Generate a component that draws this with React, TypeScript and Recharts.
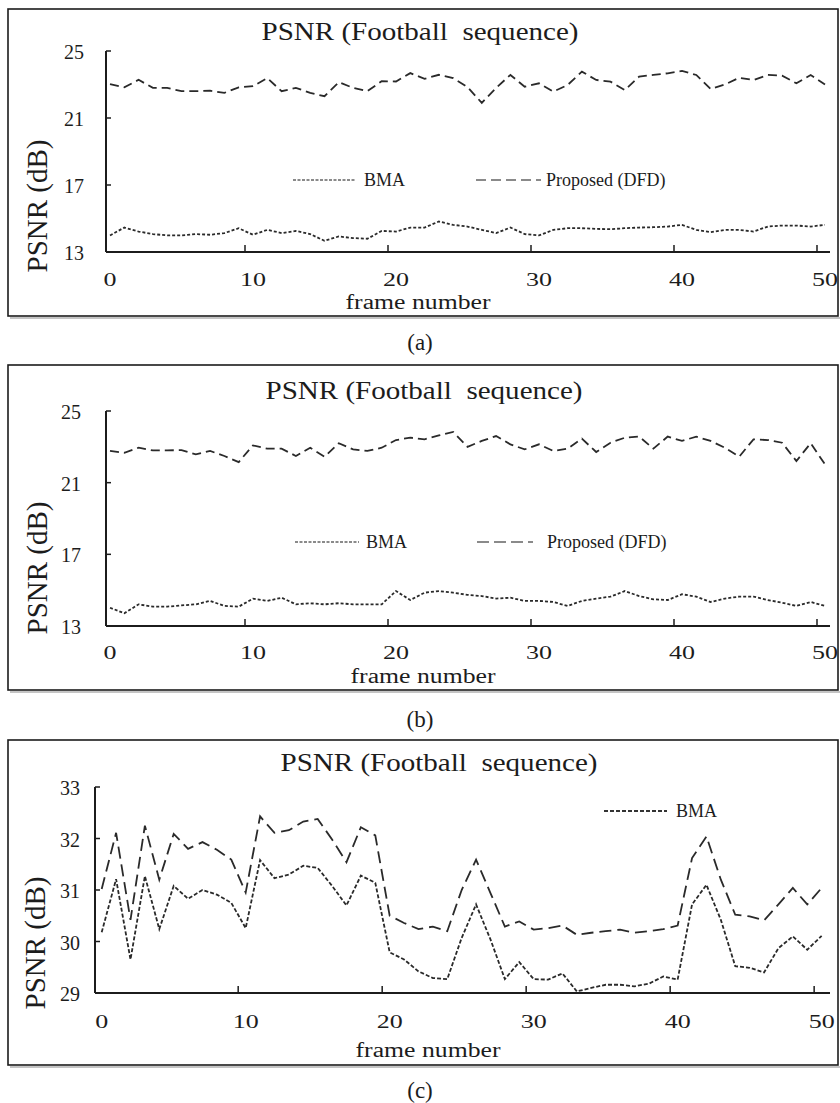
import React from 'react'
import { LineChart, Line, XAxis, YAxis, Legend } from 'recharts'

// frame index shared by all three panels
const frames = [
  0, 1, 2, 3, 4, 5, 6, 7, 8, 9, 10, 11, 12, 13, 14, 15, 16, 17, 18, 19, 20, 21, 22, 23, 24, 25,
  26, 27, 28, 29, 30, 31, 32, 33, 34, 35, 36, 37, 38, 39, 40, 41, 42, 43, 44, 45, 46, 47, 48, 49, 50,
]
const frameTicks = [0, 10, 20, 30, 40, 50]

// (a)
const bmaA = [
  13.99, 14.46, 14.22, 14.07, 13.99, 13.99, 14.07, 14.03, 14.13, 14.42, 14.03, 14.32, 14.13, 14.26, 14.07, 13.67, 13.93,
  13.83, 13.79, 14.26, 14.22, 14.46, 14.46, 14.82, 14.62, 14.52, 14.32, 14.13, 14.46, 14.07, 13.99, 14.32, 14.42, 14.42,
  14.38, 14.36, 14.42, 14.46, 14.48, 14.52, 14.62, 14.32, 14.18, 14.32, 14.32, 14.22, 14.52, 14.58, 14.58, 14.52, 14.62,
]
const dfdA = [
  23.02, 22.83, 23.28, 22.8, 22.8, 22.6, 22.6, 22.63, 22.5, 22.83, 22.9, 23.38, 22.6, 22.8, 22.5, 22.3, 23.14,
  22.8, 22.6, 23.2, 23.18, 23.68, 23.34, 23.58, 23.38, 22.85, 21.9, 22.8, 23.57, 22.87, 23.07, 22.57, 22.97, 23.77,
  23.27, 23.17, 22.67, 23.47, 23.57, 23.67, 23.81, 23.57, 22.73, 23.0, 23.4, 23.27, 23.57, 23.53, 23.07, 23.57, 23.0,
]

// (b)
const bmaB = [
  14.02, 13.71, 14.21, 14.08, 14.08, 14.15, 14.21, 14.4, 14.12, 14.08, 14.53, 14.4, 14.58, 14.21, 14.27, 14.21, 14.27,
  14.21, 14.21, 14.21, 14.95, 14.45, 14.86, 14.95, 14.86, 14.74, 14.67, 14.53, 14.58, 14.4, 14.4, 14.34, 14.12, 14.4,
  14.53, 14.64, 14.95, 14.67, 14.49, 14.45, 14.77, 14.64, 14.34, 14.53, 14.64, 14.64, 14.45, 14.3, 14.12, 14.34, 14.12,
]
const dfdB = [
  22.77, 22.67, 22.95, 22.8, 22.8, 22.82, 22.58, 22.77, 22.49, 22.15, 23.08, 22.9, 22.9, 22.49, 22.95, 22.45, 23.2,
  22.86, 22.77, 22.95, 23.38, 23.51, 23.42, 23.64, 23.83, 23.0, 23.33, 23.6, 23.14, 22.86, 23.14, 22.77, 22.9, 23.46,
  22.71, 23.23, 23.51, 23.57, 22.9, 23.57, 23.33, 23.57, 23.33, 22.95, 22.45, 23.42, 23.38, 23.23, 22.21, 23.2, 22.02,
]

// (c)
const bmaC = [
  30.18, 31.21, 29.65, 31.27, 30.24, 31.08, 30.83, 31.0, 30.91, 30.75, 30.26, 31.58, 31.23, 31.3, 31.47, 31.43, 31.08,
  30.7, 31.28, 31.14, 29.79, 29.65, 29.42, 29.29, 29.27, 30.07, 30.72, 30.04, 29.27, 29.6, 29.27, 29.26, 29.38, 29.03,
  29.1, 29.16, 29.16, 29.13, 29.18, 29.32, 29.26, 30.72, 31.1, 30.42, 29.52, 29.49, 29.4, 29.87, 30.1, 29.84, 30.11,
]
const dfdC = [
  31.02, 32.11, 30.42, 32.25, 31.2, 32.09, 31.8, 31.93, 31.78, 31.59, 30.95, 32.43, 32.11, 32.16, 32.33, 32.38, 31.98,
  31.54, 32.22, 32.06, 30.5, 30.36, 30.24, 30.29, 30.2, 31.0, 31.59, 30.94, 30.29, 30.39, 30.23, 30.26, 30.31, 30.13,
  30.17, 30.2, 30.23, 30.17, 30.2, 30.24, 30.31, 31.62, 32.04, 31.2, 30.52, 30.49, 30.41, 30.72, 31.04, 30.72, 31.04,
]

const serif = "'Liberation Serif', Tinos, 'Times New Roman', Times, serif"
const ink = '#1c1c1c'
const lineInk = '#2a2a2a'
const txt = { fontFamily: serif }

function FrameTick(props: any) {
  const { x, y, payload, tickShift, labelDy } = props
  const v = payload.value
  return (
    <g>
      {v > 0 && <line x1={x - tickShift} x2={x - tickShift} y1={y} y2={y - 7} stroke={ink} strokeWidth={1.5} />}
      <text
        x={x}
        y={y + labelDy}
        textAnchor="middle"
        style={txt}
        fontSize={19}
        fill={ink}
        textLength={String(v).length * 13}
        lengthAdjust="spacingAndGlyphs"
      >
        {v}
      </text>
    </g>
  )
}

function DbTick(props: any) {
  const { x, y, payload, labelGap } = props
  return (
    <g>
      <line x1={x} x2={x + 5} y1={y} y2={y} stroke={ink} strokeWidth={1.5} />
      <text x={x - labelGap} y={y + 8} textAnchor="end" style={txt} fontSize={20} fill={ink}>
        {payload.value}
      </text>
    </g>
  )
}

function FrameTitle({ cx, baseY }: any) {
  return (
    <text x={cx} y={baseY} textAnchor="middle" style={txt} fontSize={20} fill={ink} textLength={145} lengthAdjust="spacingAndGlyphs">
      frame number
    </text>
  )
}

function DbTitle({ bx, cy }: any) {
  return (
    <text
      transform={`translate(${bx},${cy}) rotate(-90)`}
      textAnchor="middle"
      style={txt}
      fontSize={30}
      fill={ink}
      textLength={133}
      lengthAdjust="spacingAndGlyphs"
    >
      PSNR (dB)
    </text>
  )
}

type LegendSpot = { x1: number; x2: number; tx: number; dash: string; color: string }

function LegendRow({ payload, spots }: any) {
  return (
    <svg width={840} height={30} style={{ display: 'block' }}>
      {(payload || []).map((p: any) => {
        const s: LegendSpot = spots[p.value]
        if (!s) return null
        return (
          <g key={p.value}>
            <line x1={s.x1} x2={s.x2} y1={15} y2={15} stroke={s.color} strokeWidth={2.2} strokeDasharray={s.dash} />
            <text x={s.tx} y={21} style={txt} fontSize={18} fill={ink}>
              {p.value}
            </text>
          </g>
        )
      })}
    </svg>
  )
}

type PanelProps = {
  top: number
  height: number
  marginTop: number
  xAxisHeight: number
  yAxisWidth: number
  xDomain: [number, number]
  yDomain: [number, number]
  yTicks: number[]
  bma: number[]
  dfd: number[]
  bmaDash: string
  dfdDash: string
  tickShift: number
  labelDy: number
  labelGap: number
  frameTitle: { cx: number; baseY: number }
  dbTitle: { bx: number; cy: number }
  legendTop: number
  spots: Record<string, LegendSpot>
  showDfdLegend: boolean
}

function Panel(p: PanelProps) {
  const data = frames.map((f, i) => ({ frame: f, bma: p.bma[i], dfd: p.dfd[i] }))
  return (
    <div style={{ position: 'absolute', left: 0, top: p.top, width: 840, height: p.height }}>
      <LineChart width={840} height={p.height} data={data} margin={{ top: p.marginTop, right: 10, bottom: 0, left: 0 }}>
        <XAxis
          dataKey="frame"
          type="number"
          domain={p.xDomain}
          ticks={frameTicks}
          interval={0}
          height={p.xAxisHeight}
          tickSize={0}
          tickMargin={0}
          tickLine={false}
          axisLine={{ stroke: ink, strokeWidth: 2 }}
          tick={<FrameTick tickShift={p.tickShift} labelDy={p.labelDy} />}
          label={<FrameTitle cx={p.frameTitle.cx} baseY={p.frameTitle.baseY} />}
        />
        <YAxis
          type="number"
          domain={p.yDomain}
          ticks={p.yTicks}
          interval={0}
          width={p.yAxisWidth}
          tickSize={0}
          tickMargin={0}
          tickLine={false}
          axisLine={{ stroke: ink, strokeWidth: 2 }}
          tick={<DbTick labelGap={p.labelGap} />}
          label={<DbTitle bx={p.dbTitle.bx} cy={p.dbTitle.cy} />}
        />
        <Legend
          layout="horizontal"
          verticalAlign="middle"
          align="center"
          wrapperStyle={{ position: 'absolute', left: 0, top: p.legendTop, width: 840, height: 30 }}
          content={<LegendRow spots={p.spots} />}
        />
        <Line
          type="linear"
          dataKey="bma"
          name="BMA"
          stroke={lineInk}
          strokeWidth={1.8}
          strokeDasharray={p.bmaDash}
          dot={false}
          activeDot={false}
          isAnimationActive={false}
        />
        <Line
          type="linear"
          dataKey="dfd"
          name="Proposed (DFD)"
          stroke={lineInk}
          strokeWidth={1.8}
          strokeDasharray={p.dfdDash}
          dot={false}
          activeDot={false}
          legendType={p.showDfdLegend ? 'line' : 'none'}
          isAnimationActive={false}
        />
      </LineChart>
    </div>
  )
}

function Frame({ y, h, title, tx }: { y: number; h: number; title: number; tx: number }) {
  return (
    <g>
      <line x1={10} x2={840} y1={y + h + 2} y2={y + h + 2} stroke="#b0b0b0" strokeWidth={1.5} />
      <rect x={8} y={y} width={830} height={h} fill="none" stroke={ink} strokeWidth={1.6} />
      <text
        x={tx}
        y={title}
        textAnchor="middle"
        style={{ ...txt, whiteSpace: 'pre' }}
        fontSize={26}
        fill={ink}
        textLength={317}
        lengthAdjust="spacingAndGlyphs"
      >
        PSNR (Football  sequence)
      </text>
    </g>
  )
}

export default function App() {
  return (
    <div style={{ position: 'absolute', left: 0, top: 0, width: 840, height: 1103, background: '#fff', overflow: 'hidden', fontFamily: serif }}>
      <Panel
        top={0}
        height={330}
        marginTop={51}
        xAxisHeight={78}
        yAxisWidth={106}
        xDomain={[-0.28, 50.35]}
        yDomain={[13, 25]}
        yTicks={[13, 17, 21, 25]}
        bma={bmaA}
        dfd={dfdA}
        bmaDash="3 2"
        dfdDash="9 5"
        tickShift={8}
        labelDy={34}
        labelGap={22}
        frameTitle={{ cx: 418, baseY: 309 }}
        dbTitle={{ bx: 46.6, cy: 206 }}
        legendTop={165}
        spots={{
          BMA: { x1: 293, x2: 356, tx: 364, dash: '3 1.5', color: '#8a8a8a' },
          'Proposed (DFD)': { x1: 476, x2: 541, tx: 546, dash: '10 5', color: '#8a8a8a' },
        }}
        showDfdLegend
      />
      <Panel
        top={360}
        height={340}
        marginTop={51}
        xAxisHeight={74}
        yAxisWidth={106}
        xDomain={[-0.28, 50.35]}
        yDomain={[13, 25]}
        yTicks={[13, 17, 21, 25]}
        bma={bmaB}
        dfd={dfdB}
        bmaDash="3 2"
        dfdDash="9 5"
        tickShift={8}
        labelDy={33}
        labelGap={25}
        frameTitle={{ cx: 423, baseY: 323 }}
        dbTitle={{ bx: 46.6, cy: 208 }}
        legendTop={167}
        spots={{
          BMA: { x1: 295, x2: 359, tx: 366, dash: '3 1.5', color: '#8a8a8a' },
          'Proposed (DFD)': { x1: 477, x2: 533, tx: 547, dash: '12 5', color: '#8a8a8a' },
        }}
        showDfdLegend
      />
      <Panel
        top={735}
        height={340}
        marginTop={52}
        xAxisHeight={82}
        yAxisWidth={95}
        xDomain={[-0.465, 50.58]}
        yDomain={[29, 33]}
        yTicks={[29, 30, 31, 32, 33]}
        bma={bmaC}
        dfd={dfdC}
        bmaDash="4 2"
        dfdDash="12 6"
        tickShift={7.5}
        labelDy={35}
        labelGap={15}
        frameTitle={{ cx: 428, baseY: 322 }}
        dbTitle={{ bx: 44.6, cy: 208 }}
        legendTop={61}
        spots={{
          BMA: { x1: 604, x2: 667, tx: 676, dash: '4 2', color: '#333' },
        }}
        showDfdLegend={false}
      />
      <svg width={840} height={1103} style={{ position: 'absolute', left: 0, top: 0, pointerEvents: 'none' }}>
        <Frame y={9} h={307} title={40} tx={420} />
        <Frame y={365} h={325} title={399} tx={424} />
        <Frame y={740} h={325} title={771} tx={439} />
        <text x={420} y={350} textAnchor="middle" style={txt} fontSize={23} fill={ink}>(a)</text>
        <text x={420} y={727} textAnchor="middle" style={txt} fontSize={23} fill={ink}>(b)</text>
        <text x={420} y={1098} textAnchor="middle" style={txt} fontSize={23} fill={ink}>(c)</text>
      </svg>
    </div>
  )
}
